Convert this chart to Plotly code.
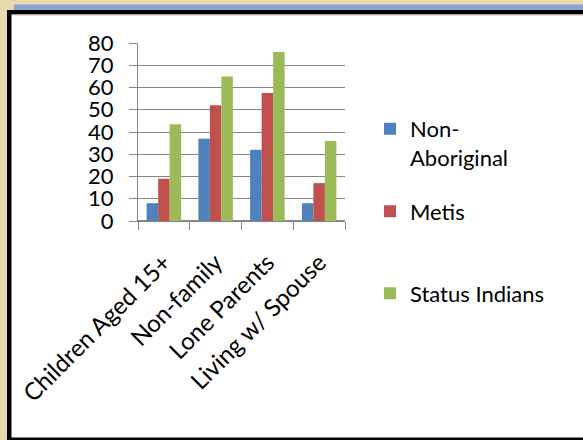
import plotly.graph_objects as go

# Household living arrangements, percentage by group
categories = ["Children Aged 15+", "Non-family", "Lone Parents", "Living w/ Spouse"]
non_aboriginal = [8, 37, 32, 8]
metis = [19, 52, 57.5, 17]
status_indians = [43.5, 65, 76, 36]

series_names = ["Non-<br>Aboriginal", "Metis", "Status Indians"]
series_colors = ["#4F81BD", "#C0504D", "#9BBB59"]

y_ticks = [0, 10, 20, 30, 40, 50, 60, 70, 80]

W, H = 583, 440
PL, PR, PT, PB = 138, 345, 43, 221  # plot area in pixels


def fx(x):
    return (x - PL) / (PR - PL)


def fy(y):
    return (PB - y) / (PB - PT)


FONT = "Lato, 'Open Sans', sans-serif"
GRID = "#868686"

fig = go.Figure()
legends = ["legend", "legend2", "legend3"]
for name, vals, col, lg in zip(series_names, [non_aboriginal, metis, status_indians],
                               series_colors, legends):
    fig.add_trace(go.Bar(x=categories, y=vals, name=name, marker_color=col,
                         marker_line_width=0, legend=lg, showlegend=True))

legend_common = dict(font=dict(family=FONT, size=22, color="#000"),
                     bgcolor="rgba(0,0,0,0)", xanchor="left", yanchor="top",
                     valign="top", itemclick=False, tracegroupgap=0)

shapes = [
    # page frame: blue strip, black edges, white panel
    dict(type="rect", xref="paper", yref="paper", x0=fx(14), x1=fx(600), y0=fy(10), y1=fy(4.5),
         fillcolor="#86A4D4", line_width=0, layer="below"),
    dict(type="rect", xref="paper", yref="paper", x0=fx(7), x1=fx(600), y0=fy(442), y1=fy(10),
         fillcolor="#000000", line_width=0, layer="below"),
    dict(type="rect", xref="paper", yref="paper", x0=fx(11.5), x1=fx(600), y0=fy(437.5), y1=fy(14.5),
         fillcolor="#FFFFFF", line_width=0, layer="below"),
    dict(type="line", xref="paper", yref="paper", x0=fx(11.5), x1=fx(600), y0=fy(14.8), y1=fy(14.8),
         line=dict(color="#A8A8A8", width=1), layer="below"),
]

fig.update_layout(
    width=W, height=H,
    margin=dict(l=PL, r=W - PR, t=PT, b=H - PB, pad=0),
    paper_bgcolor="#E9D8AE",
    plot_bgcolor="#FFFFFF",
    barmode="group",
    bargap=1.5 / 4.5,
    bargroupgap=0,
    showlegend=True,
    font=dict(family=FONT, size=22, color="#000"),
    shapes=shapes,
    legend=dict(x=fx(370), y=fy(108), **legend_common),
    legend2=dict(x=fx(370), y=fy(190.5), **legend_common),
    legend3=dict(x=fx(370), y=fy(272.5), **legend_common),
    xaxis=dict(
        type="category", showline=True, linecolor=GRID, linewidth=1,
        ticks="outside", ticklen=8, tickcolor=GRID, tickson="boundaries",
        tickangle=-45, tickfont=dict(family=FONT, size=24, color="#000"),
        ticklabelstandoff=17, showgrid=False,
    ),
    yaxis=dict(
        range=[0, 80], tickvals=y_ticks, showgrid=True, gridcolor=GRID, gridwidth=1,
        showline=True, linecolor=GRID, linewidth=1, zeroline=True, zerolinecolor=GRID,
        ticks="outside", ticklen=8, tickcolor=GRID,
        tickfont=dict(family=FONT, size=22, color="#000"), ticklabelstandoff=11,
    ),
)

fig.write_html("out.html")
